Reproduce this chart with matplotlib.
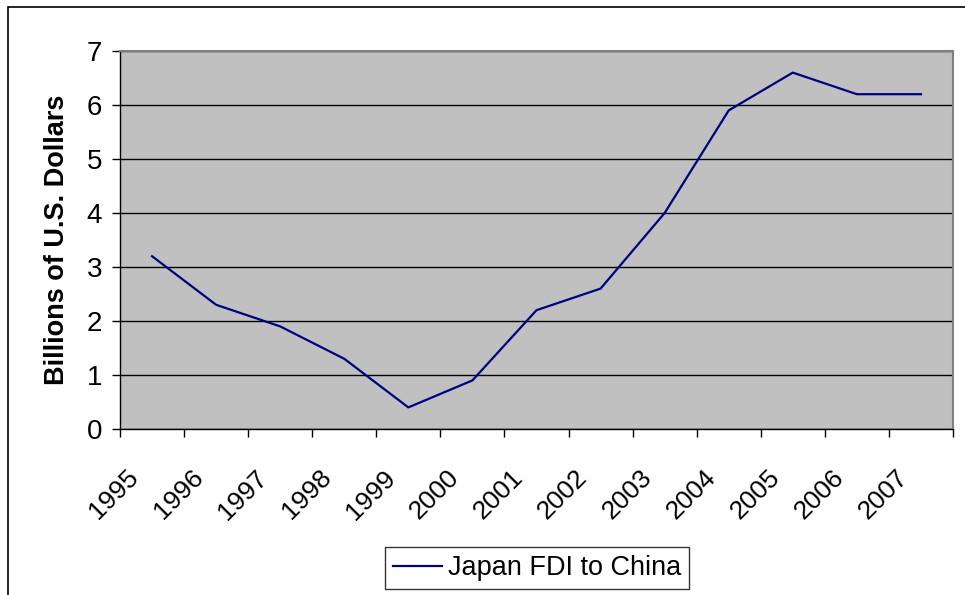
import matplotlib.pyplot as plt
from matplotlib.patches import Rectangle
from matplotlib.transforms import ScaledTranslation
import numpy as np

years = ['1995', '1996', '1997', '1998', '1999', '2000', '2001',
         '2002', '2003', '2004', '2005', '2006', '2007']
fdi = [3.2, 2.3, 1.9, 1.3, 0.4, 0.9, 2.2, 2.6, 4.0, 5.9, 6.6, 6.2, 6.2]
yticks = [0, 1, 2, 3, 4, 5, 6, 7]

plt.rcParams['font.family'] = ['Liberation Sans', 'DejaVu Sans']

fig = plt.figure(figsize=(9.65, 5.95), dpi=100)
ax = fig.add_axes([120 / 965, 1 - 429 / 595, (953 - 120) / 965, (429 - 51) / 595])

# outer chart frame (cut off at right and bottom like the source)
fig.patches.append(Rectangle((8 / 965, -0.1), 1.2, 1 - 7 / 595 + 0.1,
                             transform=fig.transFigure, fill=False,
                             edgecolor='black', linewidth=1.2))

ax.set_facecolor('#C0C0C0')
x = np.arange(len(years))
ax.plot(x, fdi, color='#000080', linewidth=1.6, label='Japan FDI to China', zorder=3)

ax.set_ylim(0, 7)
ax.set_xlim(-0.5, len(years) - 0.5)
ax.set_yticks(yticks)
ax.set_yticklabels([str(v) for v in yticks], fontsize=20)
ax.yaxis.grid(True, color='black', linewidth=1)
ax.set_axisbelow(True)

ax.set_xticks(np.arange(len(years) + 1) - 0.5)
ax.set_xticklabels([])
ax.set_xticks(x, minor=True)
ax.set_xticklabels(years, minor=True, rotation=45, ha='right', va='center',
                   rotation_mode='anchor', fontsize=19)
ax.tick_params(axis='x', which='minor', length=0, pad=0)
ax.tick_params(axis='x', which='major', length=6, direction='out', width=1)
ax.tick_params(axis='y', length=6, direction='out', width=1, pad=7)
shift = ScaledTranslation(-17 / 100, -45 / 100, fig.dpi_scale_trans)
for lbl in ax.get_xticklabels(minor=True):
    lbl.set_transform(lbl.get_transform() + shift)

ax.set_ylabel('Billions of U.S. Dollars', fontsize=19.5, fontweight='bold', labelpad=12)

for s in ['top', 'right']:
    ax.spines[s].set_color('#808080')
    ax.spines[s].set_linewidth(1.5)
for s in ['left', 'bottom']:
    ax.spines[s].set_color('black')
    ax.spines[s].set_linewidth(1)

leg = fig.legend(loc='center', bbox_to_anchor=(537 / 965, 1 - 568 / 595),
                 fontsize=19.5, frameon=True, fancybox=False, edgecolor='black',
                 handlelength=1.8, handletextpad=0.22, borderpad=0.3,
                 borderaxespad=0)
leg.get_frame().set_linewidth(1)

fig.savefig('out.png', dpi=100)
